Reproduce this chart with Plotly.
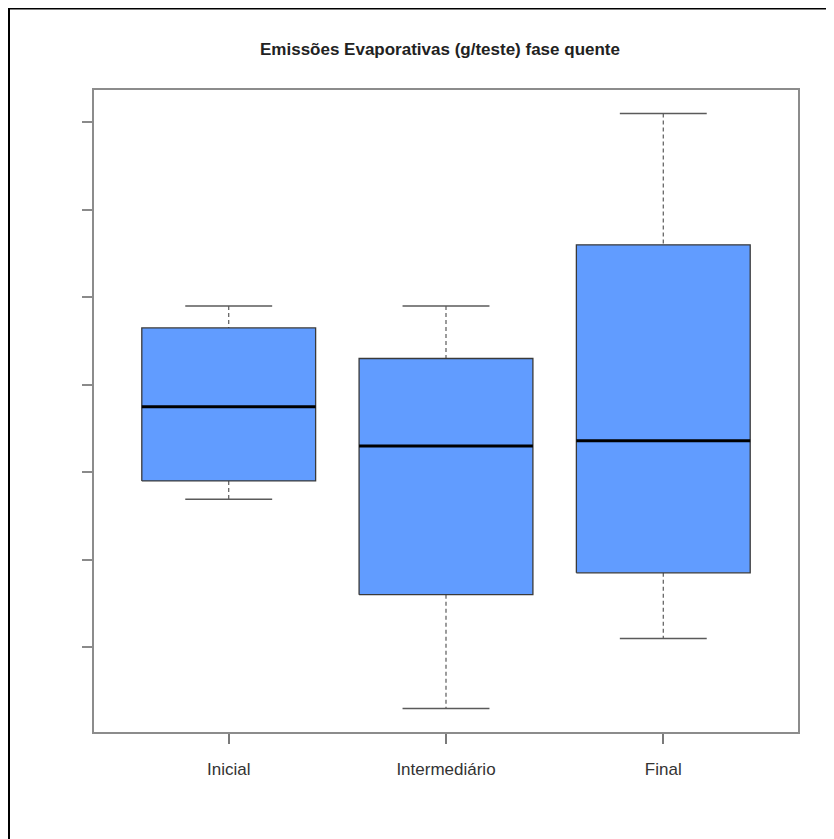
import plotly.graph_objects as go

# ---- data (y-axis has no labels, units are relative) ----
categories = ["Inicial", "Intermediário", "Final"]
positions = [1, 2, 3]
lower_whisker = [2.69, 0.30, 1.10]
q1_values = [2.90, 1.60, 1.85]
medians = [3.75, 3.30, 3.36]
q3_values = [4.65, 4.30, 5.60]
upper_whisker = [4.90, 4.90, 7.10]
y_tick_values = [1, 2, 3, 4, 5, 6, 7]

title_text = "Emissões Evaporativas (g/teste) fase quente"

BOX_FILL = "#619CFF"
BOX_LINE = "#3a3a3a"
WHISK = "#5a5a5a"
FONT = "Liberation Sans, Arial, Helvetica, sans-serif"
HALF_BOX = 0.4
HALF_CAP = 0.2

fig = go.Figure()

for x, lo, a, m, b, hi in zip(positions, lower_whisker, q1_values, medians, q3_values, upper_whisker):
    # whiskers (dashed)
    fig.add_trace(go.Scatter(x=[x, x, None, x, x], y=[hi, b, None, a, lo], mode="lines",
                             line=dict(color=WHISK, width=1.2, dash="4px,3px"),
                             hoverinfo="skip", showlegend=False))
    # caps
    fig.add_trace(go.Scatter(x=[x - HALF_CAP, x + HALF_CAP, None, x - HALF_CAP, x + HALF_CAP],
                             y=[hi, hi, None, lo, lo], mode="lines",
                             line=dict(color=WHISK, width=1.5),
                             hoverinfo="skip", showlegend=False))
    # box
    fig.add_trace(go.Scatter(x=[x - HALF_BOX, x + HALF_BOX, x + HALF_BOX, x - HALF_BOX, x - HALF_BOX],
                             y=[a, a, b, b, a], mode="lines", fill="toself",
                             fillcolor=BOX_FILL, line=dict(color=BOX_LINE, width=1.3),
                             hoverinfo="skip", showlegend=False))
    # median
    fig.add_trace(go.Scatter(x=[x - HALF_BOX, x + HALF_BOX], y=[m, m], mode="lines",
                             line=dict(color="#000000", width=3),
                             hoverinfo="skip", showlegend=False))

# the page places the figure 8px from the top-left corner
W, H = 826, 831
L, R, T, B = 86, 36, 82, 107
pw, ph = W - L - R, H - T - B


def px_x(p):
    return (p - L) / pw


def px_y(p):
    return (H - B - p) / ph


fig.update_layout(
    width=W, height=H,
    margin=dict(l=L, r=R, t=T, b=B),
    paper_bgcolor="white", plot_bgcolor="white",
    font=dict(family=FONT, color="#333333"),
    title=dict(text="<b>" + title_text + "</b>", x=px_x(432), xref="paper", xanchor="center",
               y=1 - 41 / H, yref="container", yanchor="middle",
               font=dict(size=17, color="#222222", family=FONT)),
    xaxis=dict(range=[0.38, 3.62], tickvals=positions, ticktext=categories,
               showgrid=False, zeroline=False, showline=True, mirror=True,
               linecolor="#8c8c8c", linewidth=2, ticks="outside", ticklen=10,
               tickcolor="#7a7a7a", tickwidth=1.5, ticklabelstandoff=11,
               tickfont=dict(size=17, color="#333333", family=FONT)),
    yaxis=dict(range=[0.03, 7.37], tickvals=y_tick_values, showticklabels=False,
               showgrid=False, zeroline=False, showline=True, mirror=True,
               linecolor="#8c8c8c", linewidth=2, ticks="outside", ticklen=10,
               tickcolor="#8a8a8a", tickwidth=1.5),
    shapes=[
        dict(type="line", xref="paper", yref="paper", x0=px_x(0), x1=px_x(W + 5),
             y0=px_y(0.75), y1=px_y(0.75), line=dict(color="black", width=1.5)),
        dict(type="line", xref="paper", yref="paper", x0=px_x(1), x1=px_x(1),
             y0=px_y(0), y1=px_y(H + 5), line=dict(color="black", width=2)),
    ],
)

fig.write_html("out.html")
